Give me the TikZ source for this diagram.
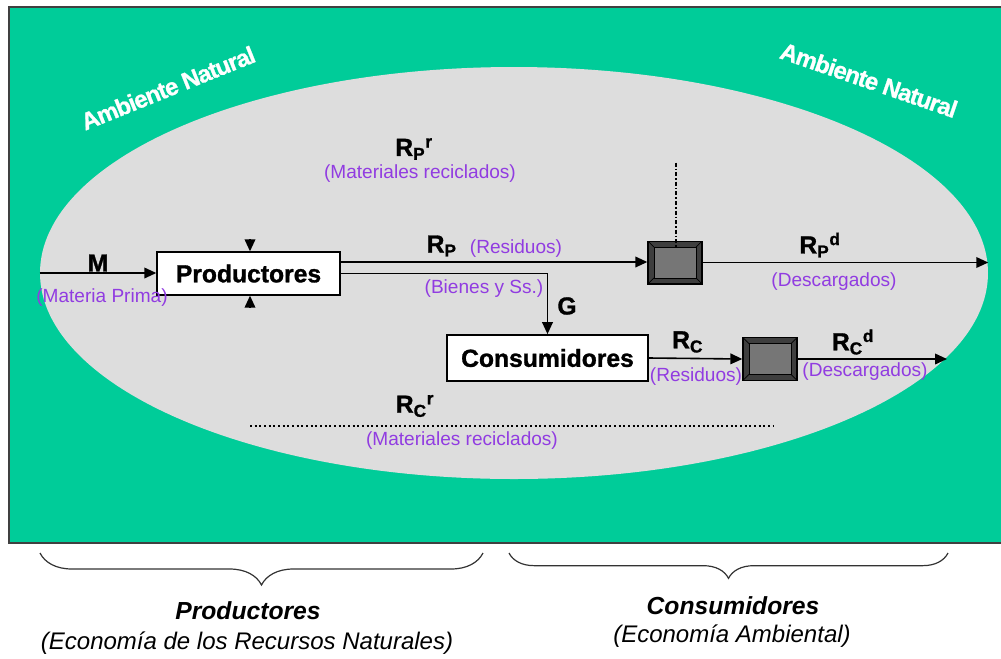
\documentclass[tikz,border=0pt]{standalone}
\usepackage{fontspec}
\setmainfont{Liberation Sans}
\newfontfamily\heavyfam{Liberation Sans Bold}[FakeBold=1.2]
\newfontfamily\ambfam{Liberation Sans Bold}[FakeBold=1, LetterSpace=-4]
\usetikzlibrary{arrows.meta, positioning, calc, shapes.geometric, decorations.pathreplacing}

\definecolor{ambgreen}{RGB}{0,204,153}
\definecolor{ecogray}{RGB}{221,221,221}
\definecolor{labviolet}{RGB}{145,60,225}
\definecolor{filtdark}{RGB}{62,62,62}
\definecolor{filtface}{RGB}{118,118,118}

\newcommand{\boxfont}{\fontsize{18.5}{22}\selectfont\heavyfam}
\newcommand{\notefont}{\fontsize{14.3}{17}\selectfont}
\newcommand{\ambfont}{\fontsize{18}{21}\selectfont\ambfam}
\newcommand{\Rsym}[2]{R\textsubscript{#1}\textsuperscript{#2}}

\begin{document}
\begin{tikzpicture}[
  x=0.75pt, y=-0.75pt,
  every node/.style={inner sep=0pt},
  agent/.style={
    draw,
    line width=1.3pt,
    fill=white,
    font=\boxfont
  },
  filt/.style={
    draw=black,
    line width=1pt,
    fill=filtdark,
    minimum width=40.5pt,
    minimum height=32pt,
    path picture={
      \fill[filtface, draw=black, line width=0.5pt]
        ($(path picture bounding box.south west)+(4.5pt,4.5pt)$) rectangle
        ($(path picture bounding box.north east)+(-4.5pt,-4.5pt)$);
      \draw[line width=0.5pt] (path picture bounding box.south west) -- ++(4.5pt,4.5pt);
      \draw[line width=0.5pt] (path picture bounding box.south east) -- ++(-4.5pt,4.5pt);
      \draw[line width=0.5pt] (path picture bounding box.north west) -- ++(4.5pt,-4.5pt);
      \draw[line width=0.5pt] (path picture bounding box.north east) -- ++(-4.5pt,-4.5pt);
    }
  },
  sym/.style={font=\boxfont},
  note/.style={text=labviolet, font=\notefont},
  amb/.style={text=white, font=\ambfont},
  sector/.style={font=\fontsize{18.5}{22}\selectfont\bfseries\itshape},
  sectornote/.style={font=\fontsize{18}{21}\selectfont\itshape},
  flow/.style={-{Triangle[length=9pt,width=8pt]}, line width=1.2pt},
  recyc/.style={line width=1.5pt, dash pattern=on 1.5pt off 2pt},
  curly/.style={decorate, decoration={brace, mirror, amplitude=#1}, line width=0.9pt, draw=black!80}
]

\useasboundingbox (0,0) rectangle (1001,658);

% ============================================================
% Ambiente natural
% ============================================================

\fill[ambgreen, draw=black!75, line width=1.2pt] (9,7) rectangle (1010,543);
\node[ellipse, fill=ecogray, minimum width=711pt, minimum height=309pt] (eco) at (514,273) {};

\node[amb, rotate=22] (ambl) at (168,88) {Ambiente Natural};
\node[amb, rotate=-19] (ambr) at (869,80) {Ambiente Natural};

% ============================================================
% Agentes y filtros
% ============================================================

\node[agent, minimum width=137pt, minimum height=32pt] (prod) at (248.5,273.5) {Productores};
\node[agent, minimum width=151pt, minimum height=34.5pt] (cons) at (547.5,358) {Consumidores};

\node[filt] (fp) at (675,262.5) {};
\node[filt] (fc) at (770,359) {};

% ============================================================
% Flujos
% ============================================================

\coordinate (rpout) at ($(prod.east)+(0,-11.5)$);
\coordinate (ptop) at ($(prod.north)+(1.5,-12)$);
\coordinate (pbot) at ($(prod.south)+(1.5,12)$);
\coordinate (rcdend) at (947,359);

\draw[flow] (eco.west) -- (eco.west -| prod.west);
\draw[flow] (ptop) -- (ptop |- prod.north);
\draw[flow] (pbot) -- (pbot |- prod.south);

\draw[flow] (rpout) -- (rpout -| fp.west);
\draw[flow] (prod.east) -| (cons.north);
\draw[flow] (fp.east) -- (fp.east -| eco.east);

\draw[flow] (cons.east) -- (fc.west);
\draw[flow] (fc.east) -- (rcdend);

% reciclaje
\coordinate (rprtop) at ($(fp.north)+(1,-78)$);
\coordinate (rprend) at ($(fp.north)+(1,7)$);
\draw[line width=1.5pt, dash pattern=on 3pt off 1.5pt on 1.2pt off 1.5pt] (rprtop) -- (rprend);

\coordinate (rcrl) at (250,426);
\coordinate (rcrr) at (773,426);
\draw[recyc] (rcrl) -- (rcrr);

% ============================================================
% Etiquetas
% ============================================================

\node[sym] (mlab) at (98,263) {M};
\node[note] (mnote) at (102,298) {(Materia Prima)};

\node[sym] (rprlab) at (414,149) {\Rsym{P}{r}};
\node[note] (rprnote) at (420,174) {(Materiales reciclados)};

\node[sym] (rplab) at (442,246) {\Rsym{P}{}};
\node[note] (rpnote) at (516,249) {(Residuos)};
\node[note] (bienes) at (484,289) {(Bienes y Ss.)};
\node[sym] (glab) at (567,306) {G};

\node[sym] (rpdlab) at (820,245) {\Rsym{P}{d}};
\node[note] (rpdnote) at (834,282) {(Descargados)};

\node[sym] (rclab) at (688,342) {\Rsym{C}{}};
\node[note] (rcnote) at (696,377) {(Residuos)};
\node[sym] (rcdlab) at (853,342) {\Rsym{C}{d}};
\node[note] (rcdnote) at (865,372) {(Descargados)};

\node[sym] (rcrlab) at (415,406) {\Rsym{C}{r}};
\node[note] (rcrnote) at (462,441) {(Materiales reciclados)};

% ============================================================
% Sectores
% ============================================================

\draw[curly=24pt] (40,553) -- (483,553);
\draw[curly=19pt] (509,553) -- (948,553);

\node[sector] (prodsec) at (248,611) {Productores};
\node[sectornote] (prodeco) at (247,643) {(Economía de los Recursos Naturales)};
\node[sector] (conssec) at (733,606) {Consumidores};
\node[sectornote] (conseco) at (732,636) {(Economía Ambiental)};

\end{tikzpicture}
\end{document}
